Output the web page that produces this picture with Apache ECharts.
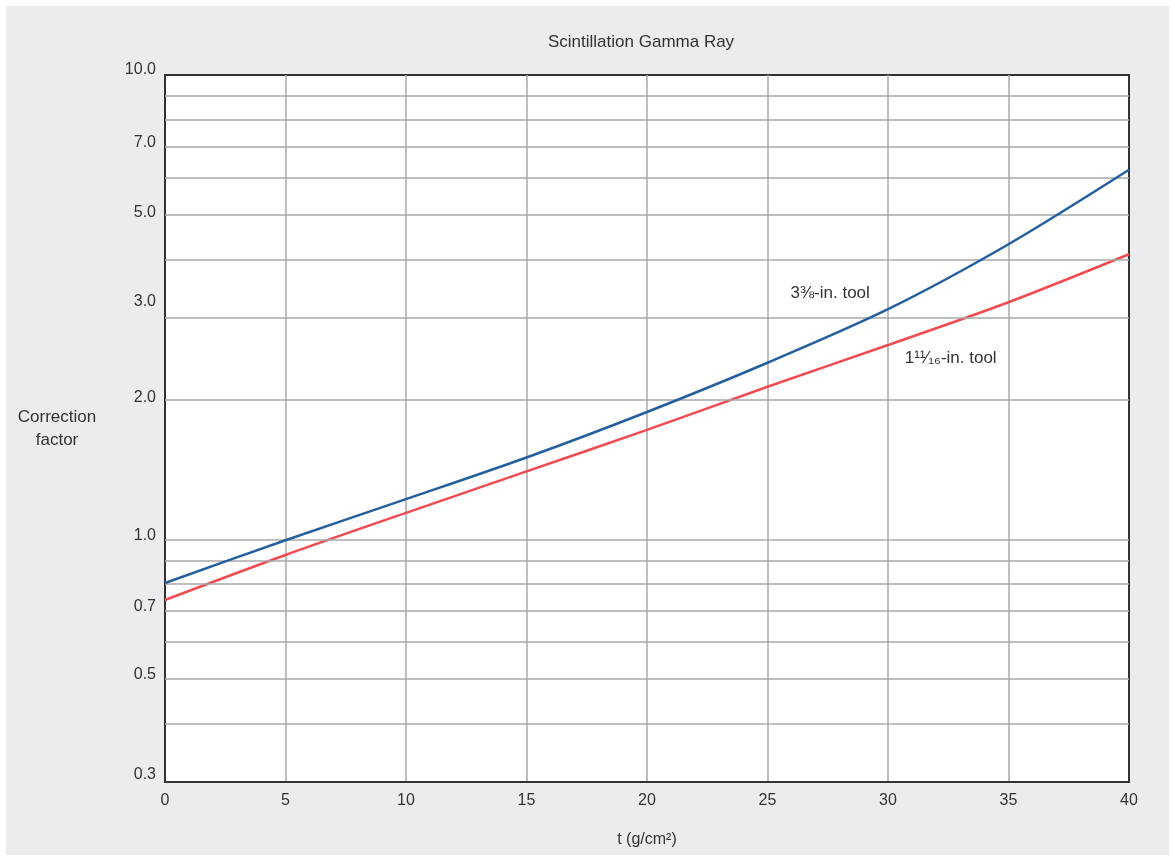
<!DOCTYPE html>
<html>
<head>
<meta charset="utf-8">
<script src="https://cdn.jsdelivr.net/npm/echarts@6/dist/echarts.min.js"></script>
<style>
  html, body { margin: 0; padding: 0; background: #ffffff; }
  #chart { width: 1175px; height: 861px; }
</style>
</head>
<body>
<div id="chart"></div>
<script>
// ---- data ----
const tValues = [0, 5, 10, 15, 20, 25, 30, 35, 40];
const tool3_375 = [0.805, 0.995, 1.22, 1.50, 1.88, 2.40, 3.13, 4.32, 6.25];
const tool1_6875 = [0.74, 0.925, 1.14, 1.40, 1.72, 2.13, 2.62, 3.24, 4.11];

const yGridValues = [0.3, 0.4, 0.5, 0.6, 0.7, 0.8, 0.9, 1, 2, 3, 4, 5, 6, 7, 8, 9, 10];
const yLabelValues = [0.3, 0.5, 0.7, 1, 2, 3, 5, 7, 10];
const xTicks = [0, 5, 10, 15, 20, 25, 30, 35, 40];

const titleText = 'Scintillation Gamma Ray';
const xName = 't (g/cm²)';
const yName = 'Correction\nfactor';
const label1 = { text: '3⅜-in. tool', t: 27.6, v: 3.38 };
const label2 = { text: '1¹¹⁄₁₆-in. tool', t: 32.6, v: 2.45 };

// ---- styling ----
const FONT = '"Liberation Sans", Arial, sans-serif';
const TXT = '#333333';
const labelLift = { 10: -5, 7: -4, 5: -2, 3: -16, 2: -2, 1: -4, 0.7: -5, 0.5: -4, 0.3: -7 };

const chart = echarts.init(document.getElementById('chart'));

const gridLines = yGridValues
  .filter(v => v !== 0.3 && v !== 10)
  .map(v => ({ yAxis: v }));

const yLabelPoints = yLabelValues.map(v => ({
  name: v.toFixed(1),
  coord: [0, v],
  label: { offset: [0, labelLift[v] || 0] }
}));

const option = {
  animation: false,
  backgroundColor: 'transparent',
  graphic: [{
    type: 'rect',
    z: -10,
    shape: { x: 6, y: 6, width: 1163, height: 849 },
    style: { fill: '#ebecee' }
  }],
  title: {
    text: titleText,
    left: 548,
    top: 34,
    padding: 0,
    textStyle: { fontFamily: FONT, fontSize: 17, fontWeight: 'normal', color: TXT }
  },
  grid: {
    left: 165, right: 46, top: 75, bottom: 79,
    show: true,
    backgroundColor: '#ffffff',
    borderColor: '#333333',
    borderWidth: 2
  },
  xAxis: {
    type: 'value',
    min: 0, max: 40, interval: 5,
    name: xName,
    nameLocation: 'middle',
    nameGap: 50,
    nameTextStyle: { fontFamily: FONT, fontSize: 16, color: TXT },
    axisLine: { show: true, lineStyle: { color: '#333333', width: 2 } },
    axisTick: { show: false },
    axisLabel: {
      color: TXT, fontFamily: FONT, fontSize: 16, margin: 11,
      customValues: xTicks,
      formatter: v => String(v)
    },
    splitLine: { show: true, showMinLine: false, showMaxLine: false, lineStyle: { color: '#a9a9a9', width: 1.5 } }
  },
  yAxis: {
    type: 'log',
    logBase: 10,
    min: 0.3, max: 10,
    name: yName,
    nameLocation: 'middle',
    nameRotate: 0,
    nameGap: 108,
    nameTextStyle: { fontFamily: FONT, fontSize: 17, color: TXT, align: 'center', lineHeight: 23, padding: [0, 0, 6, 0] },
    axisLine: { show: false },
    axisTick: { show: false },
    axisLabel: { show: false },
    splitLine: { show: false }
  },
  series: [
    {
      name: 'grid',
      type: 'line',
      data: [],
      z: 1,
      silent: true,
      markLine: {
        silent: true,
        symbol: ['none', 'none'],
        animation: false,
        label: { show: false },
        lineStyle: { color: '#a9a9a9', width: 1.5, type: 'solid' },
        data: gridLines
      },
      markPoint: {
        silent: true,
        symbol: 'circle',
        symbolSize: 0,
        label: {
          show: true, position: 'left', distance: 9,
          color: TXT, fontFamily: FONT, fontSize: 16,
          formatter: p => p.name
        },
        data: yLabelPoints
      }
    },
    {
      name: '3⅜-in. tool',
      type: 'line',
      z: 5,
      smooth: 0.3,
      showSymbol: false,
      data: tValues.map((t, i) => [t, tool3_375[i]]),
      lineStyle: { color: '#245f9e', width: 2.5 },
      itemStyle: { color: '#245f9e' },
      markPoint: {
        symbol: 'circle', symbolSize: 0,
        label: { show: true, position: 'inside', color: TXT, fontFamily: FONT, fontSize: 17, formatter: p => p.name },
        data: [{ name: label1.text, coord: [label1.t, label1.v] }]
      }
    },
    {
      name: '1¹¹⁄₁₆-in. tool',
      type: 'line',
      z: 4,
      smooth: 0.3,
      showSymbol: false,
      data: tValues.map((t, i) => [t, tool1_6875[i]]),
      lineStyle: { color: '#f04a52', width: 2.5 },
      itemStyle: { color: '#f04a52' },
      markPoint: {
        symbol: 'circle', symbolSize: 0,
        label: { show: true, position: 'inside', color: TXT, fontFamily: FONT, fontSize: 17, formatter: p => p.name },
        data: [{ name: label2.text, coord: [label2.t, label2.v] }]
      }
    }
  ]
};

chart.setOption(option);
</script>
</body>
</html>
